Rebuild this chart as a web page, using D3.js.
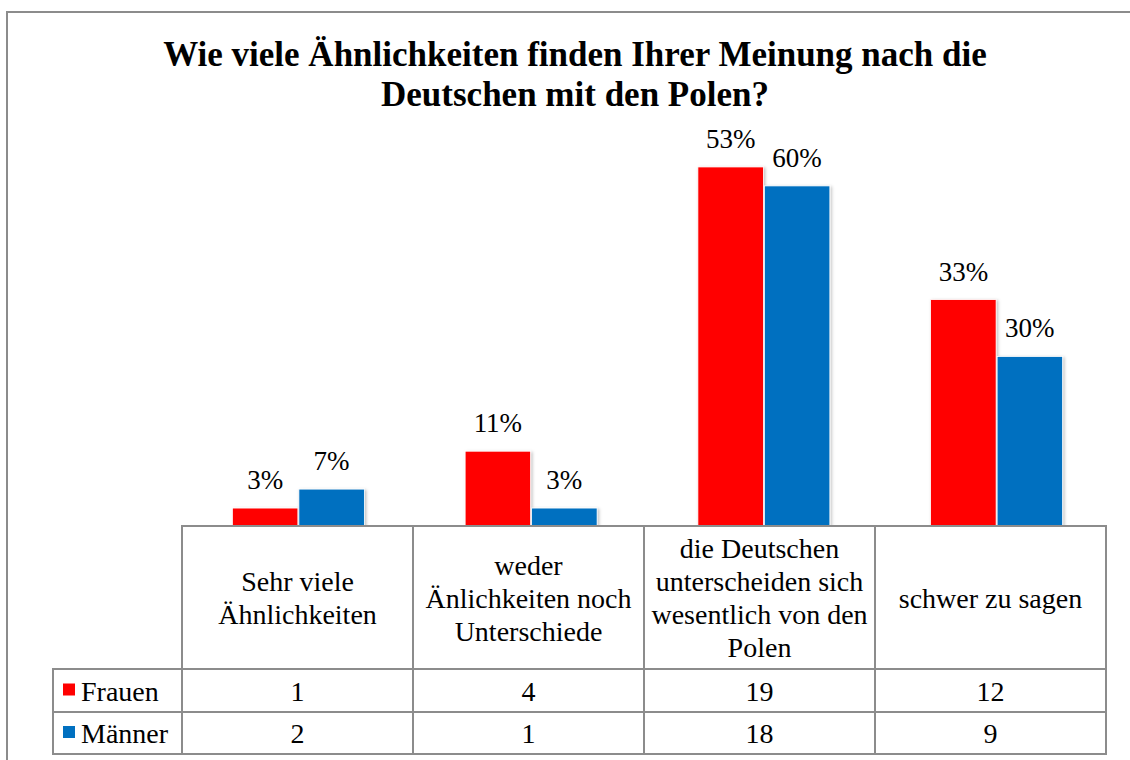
<!DOCTYPE html>
<html>
<head>
<meta charset="utf-8">
<script src="https://cdn.jsdelivr.net/npm/d3@7"></script>
</head>
<body style="margin:0;background:#fff">
<svg id="s" width="1130" height="760" style="display:block"></svg>
<script>
// ---- data ----
const titleLines = ["Wie viele Ähnlichkeiten finden Ihrer Meinung nach die", "Deutschen mit den Polen?"];
const categories = ["Sehr viele Ähnlichkeiten", "weder Änlichkeiten noch Unterschiede", "die Deutschen unterscheiden sich wesentlich von den Polen", "schwer zu sagen"];
const categoryLines = [
  ["Sehr viele", "Ähnlichkeiten"],
  ["weder", "Änlichkeiten noch", "Unterschiede"],
  ["die Deutschen", "unterscheiden sich", "wesentlich von den", "Polen"],
  ["schwer zu sagen"]
];
const seriesNames = ["Frauen", "Männer"];
const frauenCounts = [1, 4, 19, 12];
const maennerCounts = [2, 1, 18, 9];
const frauenLabels = ["3%", "11%", "53%", "33%"];
const maennerLabels = ["7%", "3%", "60%", "30%"];
const seriesColors = ["#FF0000", "#0070C0"];

const series = [
  { name: seriesNames[0], values: frauenCounts, labels: frauenLabels, color: seriesColors[0] },
  { name: seriesNames[1], values: maennerCounts, labels: maennerLabels, color: seriesColors[1] }
];

// ---- layout ----
const svg = d3.select("#s");
const FONT = "Liberation Serif";
const gridColor = "#8c8c8c";
const tableLeft = 53, colLeft = 182, tableRight = 1106;
const headTop = 526, headBottom = 669, row1Bottom = 712, row2Bottom = 754;

function txt(sel) {
  return sel.attr("font-family", FONT).style("font-family", "'Liberation Serif', serif");
}

// outer border
svg.append("rect").attr("x", 7).attr("y", 12).attr("width", 1140).attr("height", 770)
  .attr("fill", "#fff").attr("stroke", gridColor).attr("stroke-width", 2);

// title
txt(svg.append("g").selectAll("text").data(titleLines).join("text"))
  .attr("x", 575).attr("y", (d, i) => 66 + i * 40)
  .attr("text-anchor", "middle").attr("font-weight", "bold").attr("font-size", 35)
  .text(d => d);

// scales
const x0 = d3.scaleBand().domain(categories).range([colLeft, 1113]).paddingInner(0).paddingOuter(0);
const xt = d3.scaleBand().domain(categories).range([colLeft, tableRight]).paddingInner(0).paddingOuter(0);
const x1 = d3.scaleBand().domain(seriesNames).range([-66, 66]).paddingInner(0.015);
const y = d3.scaleLinear().domain([0, 20]).range([527, 148]);

// shadow filter
const defs = svg.append("defs");
const f = defs.append("filter").attr("id", "shadow").attr("x", "-10%").attr("y", "-10%").attr("width", "130%").attr("height", "130%");
f.append("feDropShadow").attr("dx", 1.5).attr("dy", 1).attr("stdDeviation", 1.5)
  .attr("flood-color", "#000").attr("flood-opacity", 0.25);

// bars
const barsG = svg.append("g");
series.forEach(s => {
  const g = barsG.append("g");
  g.selectAll("rect").data(categories).join("rect")
    .attr("x", (c) => x0(c) + x0.bandwidth() / 2 + x1(s.name))
    .attr("y", (c, i) => y(s.values[i]))
    .attr("width", x1.bandwidth())
    .attr("height", (c, i) => y(0) - y(s.values[i]))
    .attr("fill", s.color)
    .attr("stroke", "#fff").attr("stroke-width", 0.8)
    .attr("filter", "url(#shadow)");
  txt(g.selectAll("text").data(categories).join("text"))
    .attr("x", (c) => x0(c) + x0.bandwidth() / 2 + x1(s.name) + x1.bandwidth() / 2)
    .attr("y", (c, i) => y(s.values[i]) - 19)
    .attr("text-anchor", "middle").attr("font-size", 27)
    .text((c, i) => s.labels[i]);
});

// table background
svg.append("rect").attr("x", colLeft).attr("y", headTop).attr("width", tableRight - colLeft).attr("height", row2Bottom - headTop).attr("fill", "#fff");
svg.append("rect").attr("x", tableLeft).attr("y", headBottom).attr("width", colLeft - tableLeft).attr("height", row2Bottom - headBottom).attr("fill", "#fff");

const tbl = svg.append("g");
categories.forEach((c, ci) => {
  const cx = xt(c) + xt.bandwidth() / 2;
  const lines = categoryLines[ci];
  const mid = (headTop + headBottom) / 2;
  txt(tbl.append("g").selectAll("text").data(lines).join("text"))
    .attr("x", cx)
    .attr("y", (d, i) => mid + (i - (lines.length - 1) / 2) * 33 + 10)
    .attr("text-anchor", "middle").attr("font-size", 28)
    .text(d => d);
});

const rowTops = [headBottom, row1Bottom];
const rowBottoms = [row1Bottom, row2Bottom];
series.forEach((s, si) => {
  const mid = (rowTops[si] + rowBottoms[si]) / 2;
  tbl.append("rect").attr("x", 63).attr("y", mid - 7).attr("width", 12).attr("height", 12).attr("fill", s.color);
  txt(tbl.append("text")).attr("x", 81).attr("y", mid + 10).attr("font-size", 28).text(s.name);
  txt(tbl.append("g").selectAll("text").data(categories).join("text"))
    .attr("x", c => xt(c) + xt.bandwidth() / 2)
    .attr("y", mid + 10)
    .attr("text-anchor", "middle").attr("font-size", 28)
    .text((c, i) => s.values[i]);
});

// grid lines
const lines = [];
lines.push([colLeft, headTop, tableRight, headTop]);
lines.push([tableLeft, headBottom, tableRight, headBottom]);
lines.push([tableLeft, row1Bottom, tableRight, row1Bottom]);
lines.push([tableLeft, row2Bottom, tableRight, row2Bottom]);
lines.push([tableLeft, headBottom, tableLeft, row2Bottom]);
xt.domain().forEach(c => lines.push([xt(c), headTop, xt(c), row2Bottom]));
lines.push([tableRight, headTop, tableRight, row2Bottom]);
tbl.append("g").selectAll("line").data(lines).join("line")
  .attr("x1", d => d[0]).attr("y1", d => d[1]).attr("x2", d => d[2]).attr("y2", d => d[3])
  .attr("stroke", gridColor).attr("stroke-width", 2).attr("stroke-linecap", "square");
</script>
</body>
</html>
